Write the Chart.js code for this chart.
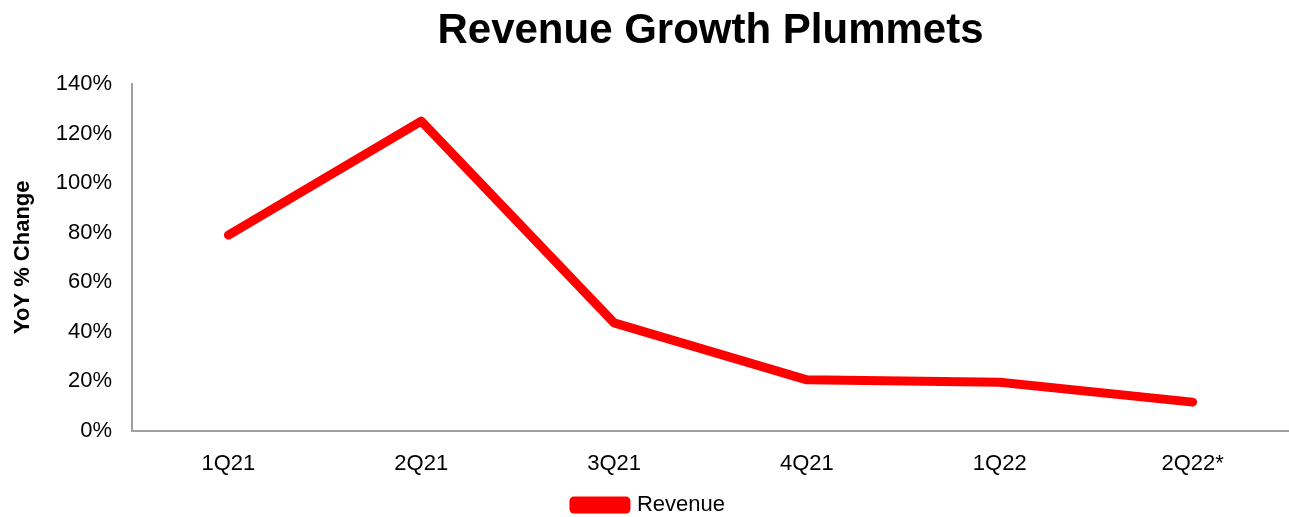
<!DOCTYPE html>
<html>
<head>
<meta charset="utf-8">
<script src="https://cdn.jsdelivr.net/npm/chart.js@4"></script>
<style>
  body { margin: 0; background: #fff; }
  #wrap { position: relative; width: 1289px; height: 517px; }
  #title {
    position: absolute; top: 5px; left: 132px; right: 0;
    text-align: center; font: bold 42px "Liberation Sans", Arial, sans-serif; color: #000;
  }
</style>
</head>
<body>
<div id="wrap">
  <div id="title">Revenue Growth Plummets</div>
  <canvas id="chart" width="1289" height="517"></canvas>
</div>
<script>
'use strict'

const quarters = ['1Q21', '2Q21', '3Q21', '4Q21', '1Q22', '2Q22*'];
const revenueGrowth = [0.79, 1.25, 0.435, 0.205, 0.195, 0.115];
const yTicks = [0, 0.2, 0.4, 0.6, 0.8, 1.0, 1.2, 1.4];

const font = 'Liberation Sans';
const axisGray = '#a0a0a0';

Chart.defaults.font.family = font;
Chart.defaults.color = '#000';

let ctx = document.getElementById('chart').getContext('2d');

let chart = new Chart(ctx, {
	type: 'line',
	data: {
		labels: quarters,
		datasets: [
			{
				label: 'Revenue',
				data: revenueGrowth,
				borderColor: '#ff0000',
				backgroundColor: '#ff0000',
				borderWidth: 9,
				borderCapStyle: 'round',
				borderJoinStyle: 'round',
				pointRadius: 0,
				tension: 0,
			},
		],
	},
	options: {
		responsive: false,
		animation: false,
		layout: {
			padding: { top: 84, left: 10, right: 0, bottom: -9 },
		},
		plugins: {
			legend: {
				position: 'bottom',
				labels: {
					boxWidth: 52,
					boxHeight: 8,
					font: { size: 22 },
					padding: 3,
				},
			},
			tooltip: { enabled: false },
		},
		scales: {
			y: {
				min: 0,
				max: 1.4,
				afterFit: function (scale) {
					scale.width = 122;
				},
				afterBuildTicks: function (scale) {
					scale.ticks = yTicks.map(v => ({ value: v }));
				},
				grid: { display: false, drawTicks: false },
				border: { color: axisGray, width: 2 },
				ticks: {
					font: { size: 22 },
					padding: 20,
					callback: v => Math.round(v * 100) + '%',
				},
				title: {
					display: true,
					text: 'YoY % Change',
					font: { size: 22, weight: 'bold' },
					padding: 0,
				},
			},
			x: {
				offset: true,
				afterFit: function (scale) {
					scale.height = scale.height - 6;
				},
				grid: { display: false, drawTicks: false },
				border: { color: axisGray, width: 2 },
				ticks: {
					font: { size: 22 },
					padding: 20,
				},
			},
		},
	},
});
</script>
</body>
</html>
